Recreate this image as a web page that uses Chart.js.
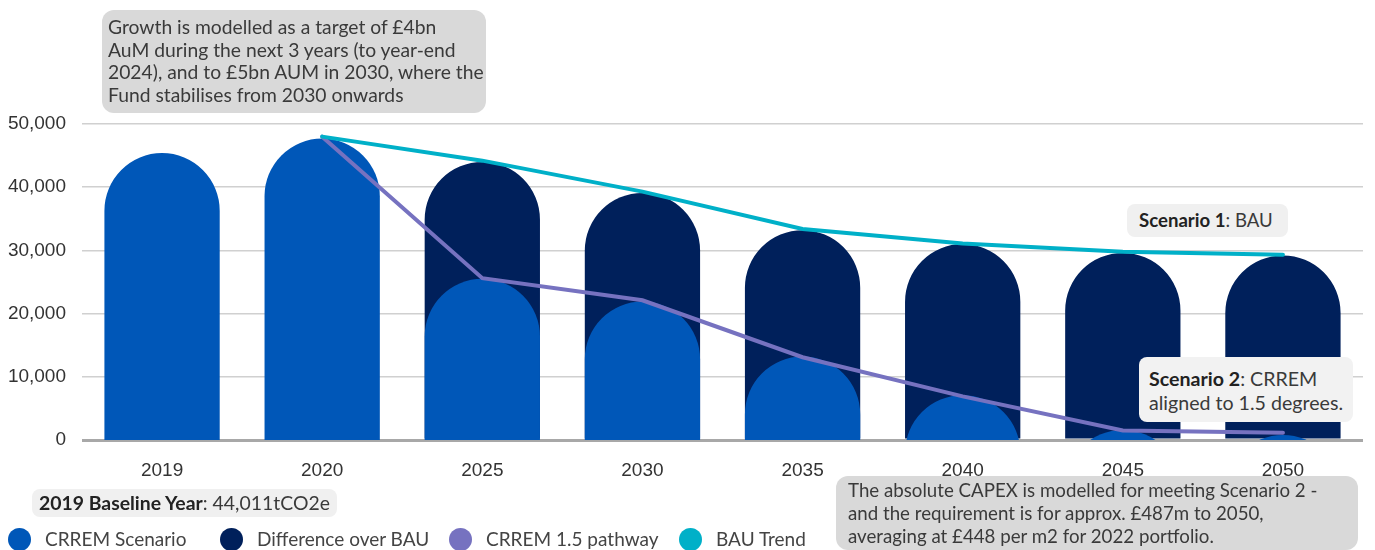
<!DOCTYPE html>
<html>
<head>
<meta charset="utf-8">
<title>CRREM vs BAU emissions</title>
<script src="https://cdn.jsdelivr.net/npm/chart.js@4.4.1/dist/chart.umd.min.js"></script>
<style>
  body { margin: 0; background: #fff; }
  #wrap { position: relative; width: 1375px; height: 550px; overflow: hidden; font-family: Lato, "Noto Sans", sans-serif; color: #3a3a3a; }
  #wrap canvas { position: absolute; left: 0; top: 0; }
  .note { position: absolute; box-sizing: border-box; white-space: nowrap; }
  .note b { font-weight: 700; color: #222; }
  #growth { left: 102px; top: 10px; width: 384px; height: 103px; background: #d9d9d9; border-radius: 12px; padding: 6px 0 0 6px; font-size: 19.3px; line-height: 22.5px; }
  #capex { left: 836px; top: 476px; width: 522px; height: 74px; background: #d9d9d9; border-radius: 12px; padding: 3px 0 0 12px; font-size: 18.7px; line-height: 23px; }
  #scen1 { left: 1127px; top: 204px; width: 161px; height: 33px; background: #f0f0f0; border-radius: 8px; padding: 5px 0 0 12px; font-size: 18.6px; line-height: 22px; }
  #scen2 { left: 1139px; top: 357px; width: 214px; height: 65px; background: #f2f2f2; border-radius: 8px; padding: 10px 0 0 10px; font-size: 19.6px; line-height: 24px; }
  #base { left: 32px; top: 489px; width: 305px; height: 28px; background: #f0f0f0; border-radius: 8px; padding: 3px 0 0 7px; font-size: 19.4px; line-height: 22px; }
  .leg { position: absolute; top: 528px; font-size: 19px; line-height: 22px; color: #444; white-space: nowrap; }
  .leg i { position: absolute; left: 0; top: 0; width: 23px; height: 23px; border-radius: 50%; }
</style>
</head>
<body>
<div id="wrap">
  <canvas id="chart" width="1375" height="550"></canvas>
  <div class="note" id="growth">Growth is modelled as a target of £4bn<br>AuM during the next 3 years (to year-end<br>2024), and to £5bn AUM in 2030, where the<br>Fund stabilises from 2030 onwards</div>
  <div class="note" id="scen1"><b>Scenario 1</b>: BAU</div>
  <div class="note" id="scen2"><b>Scenario 2</b>: CRREM<br>aligned to 1.5 degrees.</div>
  <div class="note" id="capex">The absolute CAPEX is modelled for meeting Scenario 2 -<br>and the requirement is for approx. £487m to 2050,<br>averaging at £448 per m2 for 2022 portfolio.</div>
  <div class="note" id="base"><b>2019 Baseline Year</b>: 44,011tCO2e</div>
  <div id="legend"></div>
</div>
<script>
// values (tCO2e)
const years = ['2019', '2020', '2025', '2030', '2035', '2040', '2045', '2050'];
const crremScenario = [45400, 47700, 25500, 21900, 13200, 7100, 1600, 800];
const bauTotal = [null, null, 44000, 39100, 33200, 31000, 29600, 29200];
const crremPathway = [null, 48000, 25600, 22100, 13100, 6900, 1500, 1150];
const bauTrend = [null, 48000, 44200, 39300, 33400, 31100, 29800, 29300];
const yTicks = [0, 10000, 20000, 30000, 40000, 50000];

const colors = {
  crrem: '#0057b8',
  diff: '#00205b',
  pathway: '#7672c0',
  trend: '#00b0c8'
};

const tickFont = { family: '"Liberation Sans", Arial, sans-serif', size: 19 };

// legend in html, laid out like the original
const legendItems = [
  { label: 'CRREM Scenario', color: colors.crrem, left: 8 },
  { label: 'Difference over BAU', color: colors.diff, left: 220 },
  { label: 'CRREM 1.5 pathway', color: colors.pathway, left: 449 },
  { label: 'BAU Trend', color: colors.trend, left: 679 }
];
const legendEl = document.getElementById('legend');
legendItems.forEach(item => {
  const d = document.createElement('div');
  d.className = 'leg';
  d.style.left = item.left + 'px';
  d.style.paddingLeft = '37px';
  d.innerHTML = '<i style="background:' + item.color + '"></i>' + item.label;
  legendEl.appendChild(d);
});

new Chart(document.getElementById('chart'), {
  type: 'bar',
  data: {
    labels: years,
    datasets: [
      {
        type: 'line',
        label: 'BAU Trend',
        data: bauTrend,
        borderColor: colors.trend,
        borderWidth: 4,
        pointRadius: 0,
        tension: 0,
        borderCapStyle: 'round',
        order: 0
      },
      {
        type: 'line',
        label: 'CRREM 1.5 pathway',
        data: crremPathway,
        borderColor: colors.pathway,
        borderWidth: 4,
        pointRadius: 0,
        tension: 0,
        borderCapStyle: 'round',
        order: 0
      },
      {
        label: 'CRREM Scenario',
        data: crremScenario,
        backgroundColor: colors.crrem,
        grouped: false,
        base: -20000, // bar body runs below the axis so short bars keep a dome top
        clip: 0,
        borderRadius: 200,
        barPercentage: 0.72,
        categoryPercentage: 1,
        order: 1
      },
      {
        label: 'Difference over BAU',
        data: bauTotal,
        backgroundColor: colors.diff,
        grouped: false,
        clip: 0,
        borderRadius: 200,
        barPercentage: 0.72,
        categoryPercentage: 1,
        order: 2
      }
    ]
  },
  options: {
    responsive: false,
    animation: false,
    layout: { padding: { top: 124, right: 12, left: 0, bottom: 0 } },
    plugins: {
      legend: { display: false },
      tooltip: { enabled: false }
    },
    scales: {
      x: {
        grid: { display: false },
        border: { display: false },
        ticks: { font: tickFont, color: '#333', padding: 11 },
        afterFit: s => { s.height = 110; }
      },
      y: {
        min: 0,
        max: 50000,
        afterBuildTicks: s => { s.ticks = yTicks.map(v => ({ value: v })); },
        ticks: { font: tickFont, color: '#333', padding: 16 },
        grid: {
          drawTicks: false,
          color: ctx => ctx.tick && ctx.tick.value === 0 ? '#a8a8a8' : '#d0d0d0',
          lineWidth: ctx => ctx.tick && ctx.tick.value === 0 ? 3 : 1.5
        },
        border: { display: false },
        afterFit: s => { s.width = 82; }
      }
    }
  }
});
</script>
</body>
</html>
